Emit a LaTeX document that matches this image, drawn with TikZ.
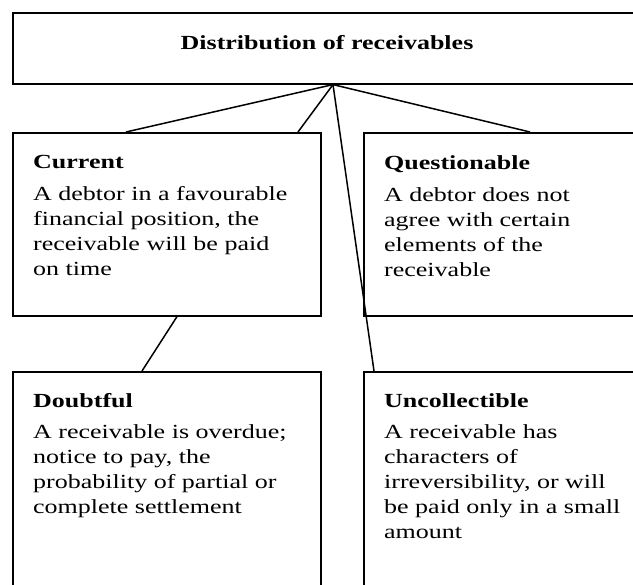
\documentclass[tikz,border=0pt]{standalone}
\usepackage{fontspec}
\setmainfont[FakeStretch=1.3]{Liberation Serif}
\usepackage{tikz}
\usetikzlibrary{positioning,calc}

\begin{document}
\begin{tikzpicture}[
  font=\fontsize{20}{25}\selectfont,
  frame/.style={
    draw,
    anchor=north west,
    inner sep=0pt,
    line width=1.6pt
  },
  note/.style={
    anchor=north west,
    align=left,
    inner sep=0pt
  },
  link/.style={line width=1.5pt}
]
  \useasboundingbox (0,0) rectangle (633pt,-585pt);
  \clip (0,0) rectangle (633pt,-585pt);

  % boxes
  \node[frame, minimum width=700pt, minimum height=71pt] (top) at (12pt,-12pt) {};
  \node[frame, minimum width=308pt, minimum height=183pt] (cur) at (12pt,-132pt) {};
  \node[frame, minimum width=400pt, minimum height=183pt] (que) at (363pt,-132pt) {};
  \node[frame, minimum width=308pt, minimum height=300pt] (dou) at (12pt,-371pt) {};
  \node[frame, minimum width=400pt, minimum height=300pt] (unc) at (363pt,-371pt) {};

  % texts
  \node[anchor=base, font=\fontsize{20}{25}\selectfont\bfseries] (title)
    at ($(top.north west)+(315pt,-38pt)$) {Distribution of receivables};
  \node[note] (curtxt) at ($(cur.north west)+(21pt,-23pt)$) {%
    \textbf{Current}\\[7pt]
    A debtor in a favourable\\
    financial position, the\\
    receivable will be paid\\
    on time};
  \node[note] (quetxt) at ($(que.north west)+(21pt,-23pt)$) {%
    \textbf{Questionable}\\[7pt]
    A debtor does not\\
    agree with certain\\
    elements of the\\
    receivable};
  \node[note] (doutxt) at ($(dou.north west)+(21pt,-22pt)$) {%
    \textbf{Doubtful}\\[6pt]
    A receivable is overdue;\\
    notice to pay, the\\
    probability of partial or\\
    complete settlement};
  \node[note] (unctxt) at ($(unc.north west)+(21pt,-22pt)$) {%
    \textbf{Uncollectible}\\[6pt]
    A receivable has\\
    characters of\\
    irreversibility, or will\\
    be paid only in a small\\
    amount};

  % connectors
  \coordinate (apex) at ($(top.south west)+(321pt,0)$);
  \draw[link] (apex) -- ($(cur.north west)+(114pt,0)$);
  \draw[link] (apex) -- ($(cur.north west)+(286pt,0)$);
  \draw[link] (apex) -- ($(que.north west)+(167pt,0)$);
  \draw[link] (apex) -- ($(unc.north west)+(11pt,0)$);
  \draw[link] ($(cur.south west)+(165pt,0)$) -- ($(dou.north west)+(130pt,0)$);
\end{tikzpicture}
\end{document}
